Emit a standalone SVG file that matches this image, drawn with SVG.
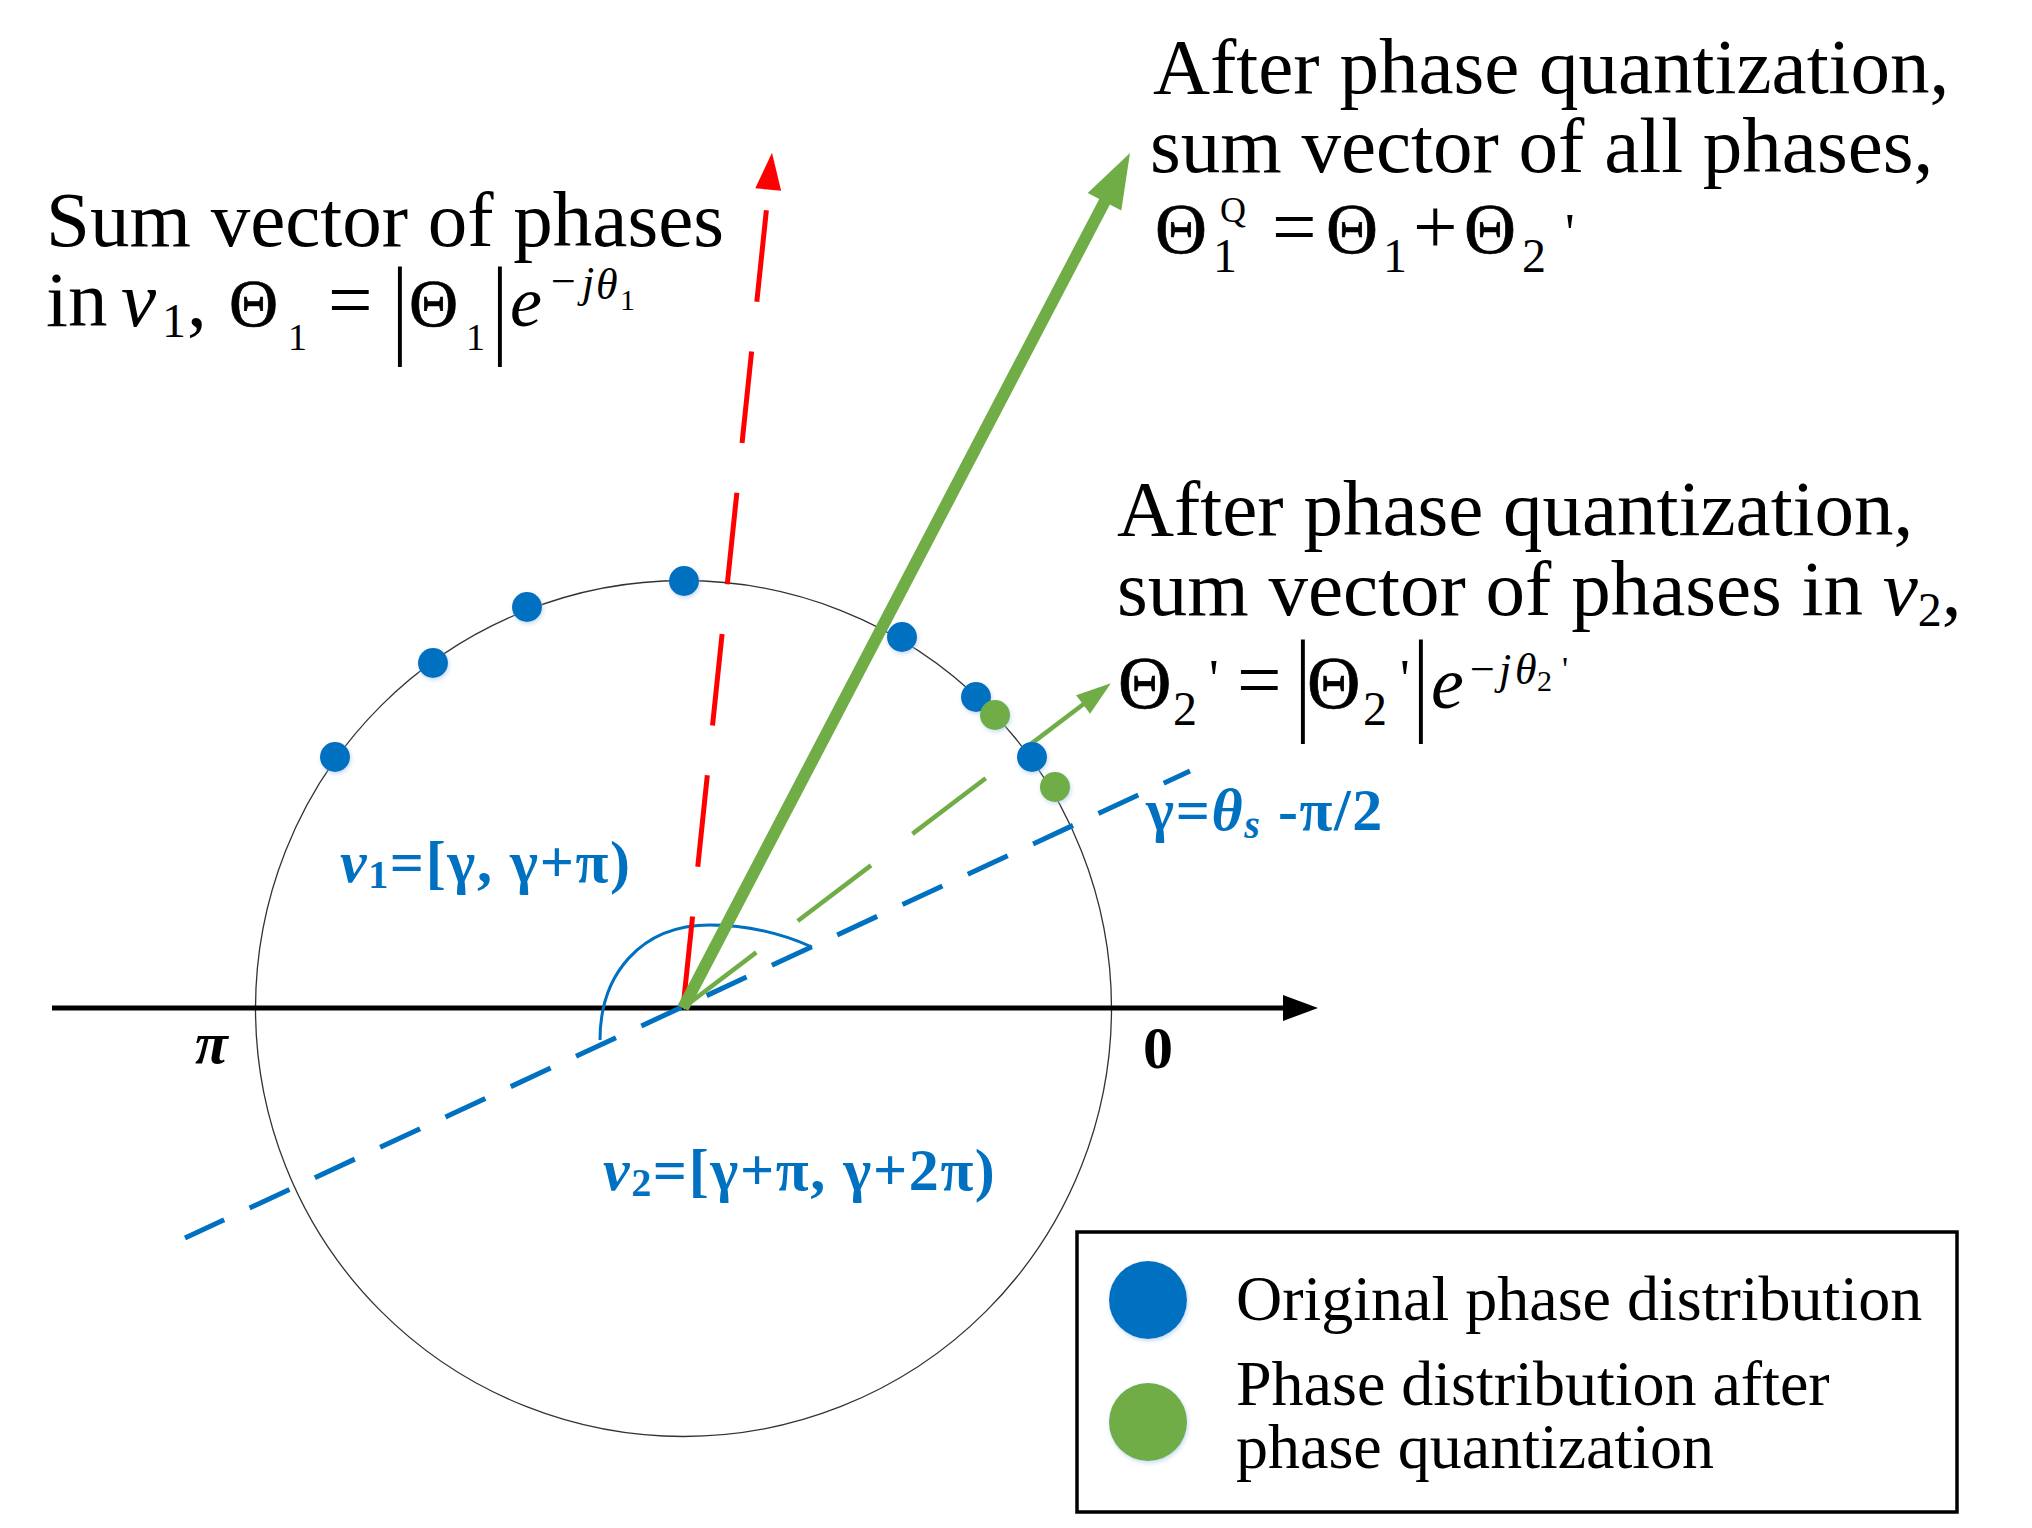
<svg xmlns="http://www.w3.org/2000/svg" width="2032" height="1528" viewBox="0 0 2032 1528">
<defs>
<style>
.t{font-family:"Liberation Serif","Times New Roman",serif;fill:#000}
.th{stroke:#000;stroke-width:0.7}
.b{font-family:"Liberation Serif","Times New Roman",serif;fill:#0070C0;font-weight:bold;letter-spacing:1.6px}
.i{font-style:italic}
.dotb{fill:#0070C0}
.dotg{fill:#70AD47}
</style>
<filter id="sh" x="-50%" y="-50%" width="200%" height="200%">
<feGaussianBlur in="SourceAlpha" stdDeviation="2"/>
<feOffset dx="1" dy="2" result="o"/>
<feFlood flood-color="#9DC3E6" flood-opacity="0.6"/>
<feComposite in2="o" operator="in"/>
<feMerge><feMergeNode/><feMergeNode in="SourceGraphic"/></feMerge>
</filter>
</defs>
<rect width="2032" height="1528" fill="#fff"/>

<g id="circle">
<circle cx="683.5" cy="1008.5" r="428" fill="none" stroke="#333" stroke-width="1.3"/>
</g>

<g id="axis">
<line x1="52" y1="1008" x2="1286" y2="1008" stroke="#000" stroke-width="5"/>
<polygon points="1318,1008 1283,995 1283,1021" fill="#000"/>
<text class="t" x="195" y="1063" font-size="60" font-weight="bold" font-style="italic">π</text>
<text class="t" x="1143" y="1068" font-size="60" font-weight="bold">0</text>
</g>

<g id="connectors">
<path d="M1190,771 L185,1238" stroke="#0070C0" stroke-width="5" stroke-dasharray="44 28" stroke-dashoffset="15" fill="none"/>
<path d="M600,1040 C600,975 640,925 710,925 C750,925 785,935 812,947" stroke="#0070C0" stroke-width="3" fill="none"/>
<line x1="683" y1="1008" x2="768.5" y2="190" stroke="#FF0000" stroke-width="5" stroke-dasharray="92 50"/>
<polygon points="772,152.7 781.1,190.8 755.3,188.2" fill="#FF0000"/>
<line x1="683" y1="1008" x2="985.7" y2="778.3" stroke="#70AD47" stroke-width="4.5" stroke-dasharray="92 52"/>
<line x1="1027.1" y1="746.9" x2="1085" y2="703" stroke="#70AD47" stroke-width="4.5"/>
<polygon points="1110.9,683.3 1090.1,713.7 1076.1,695.3" fill="#70AD47"/>
<line x1="683" y1="1008" x2="1106" y2="199" stroke="#70AD47" stroke-width="12"/>
<polygon points="1130,153 1121.3,210.5 1087.7,192.9" fill="#70AD47"/>
</g>

<g id="dots" filter="url(#sh)">
<circle class="dotb" cx="335" cy="757" r="15"/>
<circle class="dotb" cx="433" cy="663" r="15"/>
<circle class="dotb" cx="527" cy="607" r="15"/>
<circle class="dotb" cx="684" cy="581" r="15"/>
<circle class="dotb" cx="902" cy="637" r="15"/>
<circle class="dotb" cx="976" cy="697" r="15"/>
<circle class="dotg" cx="995" cy="715" r="15"/>
<circle class="dotb" cx="1032" cy="757" r="15"/>
<circle class="dotg" cx="1055" cy="787" r="15"/>
</g>

<g id="label-v1">
<text class="b" x="340" y="882" font-size="60"><tspan class="i">v</tspan><tspan font-size="40" dy="6">1</tspan><tspan dy="-6">=[γ, γ+π)</tspan></text>
</g>
<g id="label-v2">
<text class="b" x="603" y="1190" font-size="60"><tspan class="i">v</tspan><tspan font-size="40" dy="6">2</tspan><tspan dy="-6">=[γ+π, γ+2π)</tspan></text>
</g>
<g id="label-gamma">
<text class="b" x="1146" y="830" font-size="60">γ=<tspan class="i">θ</tspan><tspan class="i" font-size="40" dy="8">s</tspan><tspan dy="-8"> -π/2</tspan></text>
</g>

<g id="text-theta1">
<text class="t" x="46" y="246" font-size="79">Sum vector of phases</text>
<text class="t" x="46" y="326" font-size="79">in</text>
<text class="t i" x="121" y="326" font-size="79">v</text>
<text class="t" x="162" y="337" font-size="48">1</text>
<text class="t" x="187" y="326" font-size="79">,</text>
<text class="t th" x="229" y="326" font-size="68">Θ</text>
<text class="t" x="288" y="350" font-size="38">1</text>
<text class="t" x="328" y="326" font-size="79">=</text>
<text class="t" transform="translate(392,344) scale(1,1.4)" font-size="79">|</text>
<text class="t th" x="409" y="326" font-size="68">Θ</text>
<text class="t" x="466" y="350" font-size="38">1</text>
<text class="t" transform="translate(492,344) scale(1,1.4)" font-size="79">|</text>
<text class="t i" x="510" y="326" font-size="72">e</text>
<text class="t" x="551" y="296" font-size="44">−</text>
<text class="t i" x="582" y="297" font-size="44">j</text>
<text class="t i" x="596" y="299" font-size="44">θ</text>
<text class="t" x="620" y="310" font-size="30">1</text>
</g>

<g id="text-thetaQ">
<text class="t" x="1153" y="93" font-size="79">After phase quantization,</text>
<text class="t" x="1150" y="172" font-size="79">sum vector of all phases,</text>
<text class="t th" x="1155" y="253" font-size="72">Θ</text>
<text class="t" x="1220" y="222" font-size="36">Q</text>
<text class="t" x="1213" y="272" font-size="48">1</text>
<text class="t" x="1272" y="253" font-size="79">=</text>
<text class="t th" x="1326" y="253" font-size="72">Θ</text>
<text class="t" x="1383" y="272" font-size="48">1</text>
<text class="t" x="1413" y="253" font-size="79">+</text>
<text class="t th" x="1464" y="253" font-size="72">Θ</text>
<text class="t" x="1522" y="272" font-size="48">2</text>
<text class="t" x="1565" y="251" font-size="54">'</text>
</g>

<g id="text-theta2">
<text class="t" x="1117" y="535" font-size="79">After phase quantization,</text>
<text class="t" x="1117" y="615" font-size="79">sum vector of phases in <tspan class="i">v</tspan><tspan font-size="48" dy="11">2</tspan><tspan dy="-11">,</tspan></text>
<text class="t th" x="1118" y="708" font-size="74">Θ</text>
<text class="t" x="1173" y="725" font-size="48">2</text>
<text class="t" x="1209" y="697" font-size="54">'</text>
<text class="t" x="1237" y="706" font-size="79">=</text>
<text class="t" transform="translate(1295,720) scale(1,1.45)" font-size="79">|</text>
<text class="t th" x="1307" y="708" font-size="74">Θ</text>
<text class="t" x="1363" y="725" font-size="48">2</text>
<text class="t" x="1400" y="697" font-size="54">'</text>
<text class="t" transform="translate(1413,720) scale(1,1.45)" font-size="79">|</text>
<text class="t i" x="1431" y="708" font-size="74">e</text>
<text class="t" x="1470" y="684" font-size="44">−</text>
<text class="t i" x="1499" y="684" font-size="44">j</text>
<text class="t i" x="1515" y="684" font-size="44">θ</text>
<text class="t" x="1537" y="691" font-size="30">2</text>
<text class="t" x="1562" y="680" font-size="34">'</text>
</g>

<g id="legend">
<rect x="1077" y="1232" width="880" height="280" fill="#fff" stroke="#000" stroke-width="3.5"/>
<circle class="dotb" cx="1148" cy="1300" r="39" filter="url(#sh)"/>
<circle class="dotg" cx="1148" cy="1422" r="39" filter="url(#sh)"/>
<text class="t" x="1236" y="1320" font-size="64">Original phase distribution</text>
<text class="t" x="1236" y="1405" font-size="64">Phase distribution after</text>
<text class="t" x="1236" y="1468" font-size="64">phase quantization</text>
</g>
</svg>
